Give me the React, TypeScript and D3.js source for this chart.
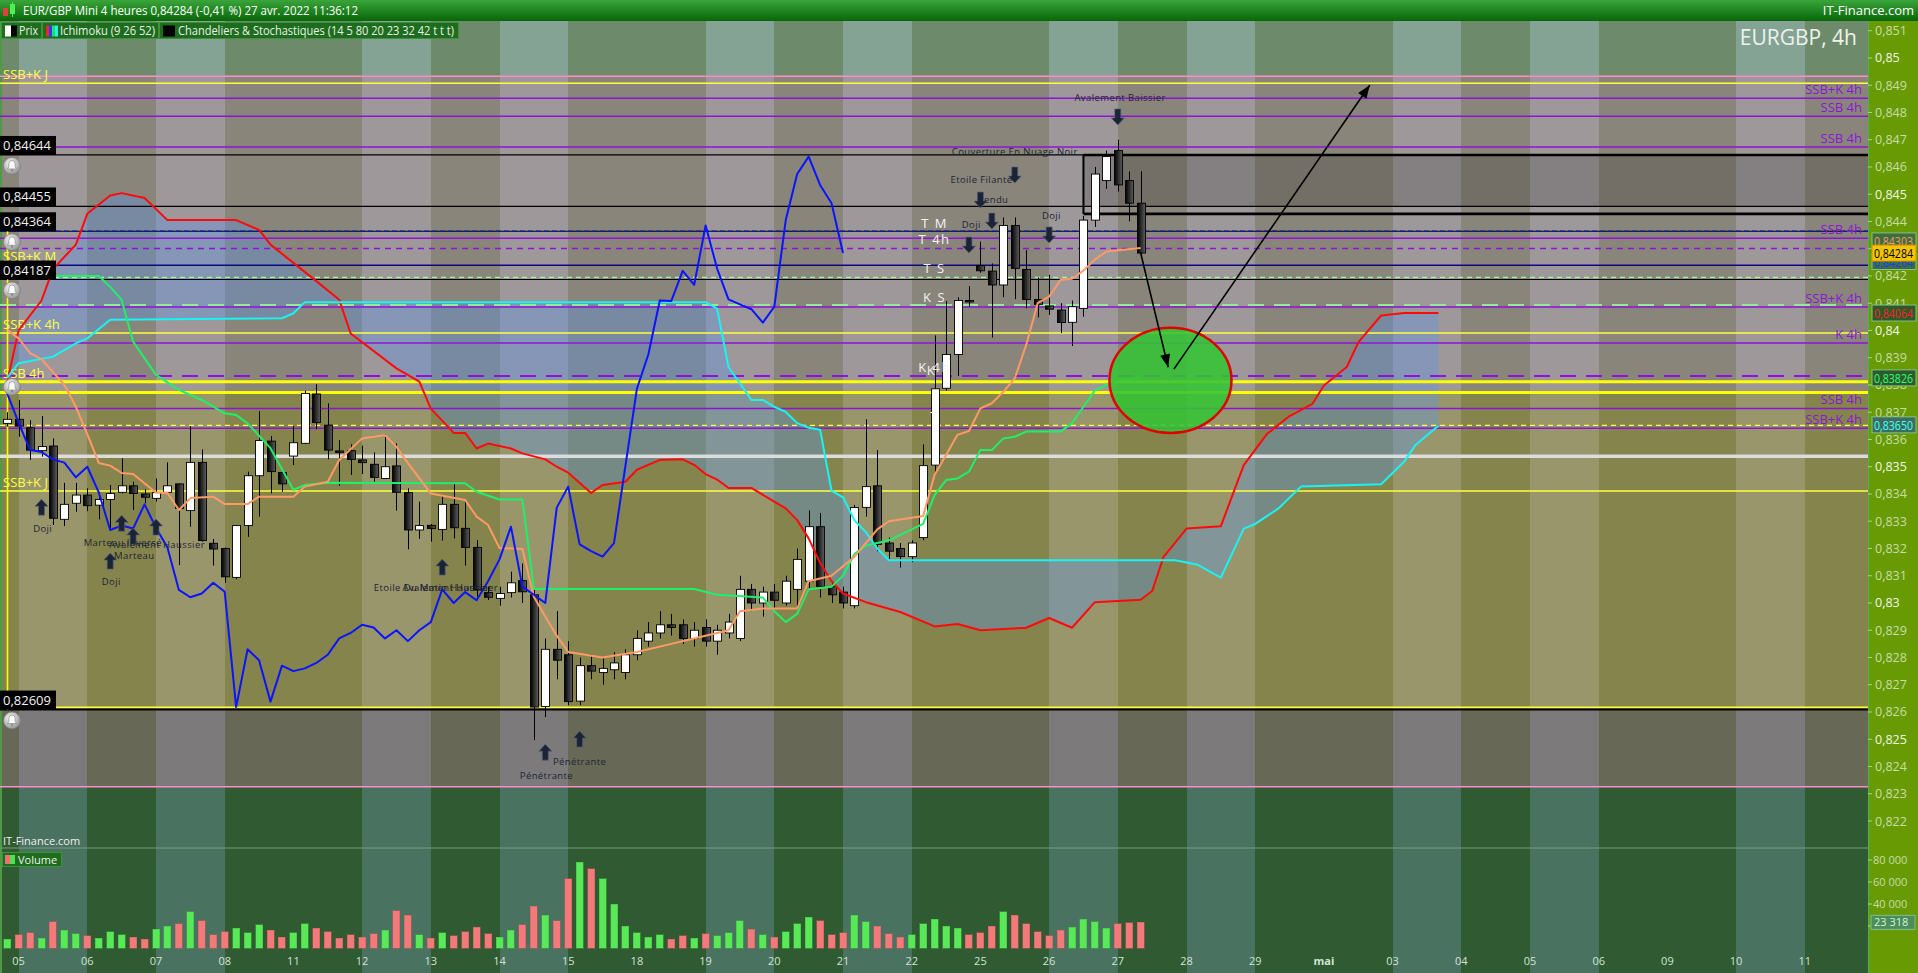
import React, { useEffect, useRef } from "react";
import * as d3 from "d3";

const W = 1918;
const H = 973;

// 4h candles, 04 avr. 20:00 -> 27 avr. 08:00
const opens = [
  0.83659, 0.83674, 0.83643, 0.83559, 0.83576, 0.83307, 0.83366, 0.83396, 0.83359, 0.8338,
  0.83406, 0.8343, 0.834, 0.83384, 0.83406, 0.83437, 0.83339, 0.83516, 0.83219, 0.832,
  0.83094, 0.83284, 0.83467, 0.83594, 0.83479, 0.83539, 0.83586, 0.83767, 0.83653, 0.83558,
  0.83559, 0.83525, 0.83509, 0.83457, 0.83503, 0.83405, 0.83268, 0.83285, 0.8327, 0.83362,
  0.83274, 0.83204, 0.83038, 0.83017, 0.83038, 0.83082, 0.8303, 0.8262, 0.8283, 0.8281,
  0.8264, 0.8277, 0.82745, 0.82755, 0.82745, 0.8281, 0.8286, 0.8289, 0.8292, 0.8292,
  0.8287, 0.8291, 0.8286, 0.8289, 0.8287, 0.8305, 0.83, 0.8304, 0.83, 0.8305,
  0.8308, 0.8328, 0.8306, 0.8304, 0.8299, 0.83351, 0.8343, 0.8322, 0.832, 0.8317,
  0.8324, 0.83506, 0.83788, 0.83912, 0.8411, 0.84238, 0.84218, 0.84167, 0.84385, 0.84224,
  0.84114, 0.8409, 0.84075, 0.8403, 0.84081, 0.84405, 0.8455, 0.8466, 0.8455, 0.84467,
];
const highs = [
  0.837, 0.83745, 0.83671, 0.83686, 0.83604, 0.83441, 0.83441, 0.83421, 0.83408, 0.83433,
  0.83531, 0.83445, 0.83417, 0.83457, 0.83516, 0.83439, 0.83649, 0.83564, 0.83235, 0.83204,
  0.83286, 0.83482, 0.83704, 0.83613, 0.83479, 0.83649, 0.83779, 0.83803, 0.83733, 0.83598,
  0.83583, 0.83577, 0.83553, 0.8362, 0.83586, 0.83421, 0.83372, 0.8329, 0.83396, 0.83437,
  0.83372, 0.83231, 0.8306, 0.8306, 0.83115, 0.83145, 0.8305, 0.8287, 0.8297, 0.8286,
  0.828, 0.8281, 0.828, 0.8282, 0.8283, 0.829, 0.8293, 0.8297, 0.8296, 0.8294,
  0.8293, 0.8294, 0.8292, 0.8296, 0.831, 0.8307, 0.8306, 0.8307, 0.831, 0.832,
  0.8334, 0.8333, 0.8308, 0.8306, 0.8336, 0.83674, 0.83561, 0.8324, 0.8322, 0.8323,
  0.83582, 0.83982, 0.84108, 0.84122, 0.84163, 0.84326, 0.84246, 0.84415, 0.84415, 0.84295,
  0.84195, 0.84204, 0.841, 0.8411, 0.8442, 0.846, 0.8466, 0.847, 0.84584, 0.84584,
];
const lows = [
  0.83647, 0.8361, 0.83525, 0.83537, 0.83286, 0.83282, 0.83335, 0.83337, 0.83307, 0.83268,
  0.83402, 0.83341, 0.83366, 0.83372, 0.83402, 0.83139, 0.8328, 0.83225, 0.83137, 0.83074,
  0.83087, 0.83243, 0.83317, 0.83402, 0.83408, 0.83506, 0.83583, 0.83637, 0.83527, 0.8343,
  0.8347, 0.83473, 0.83445, 0.83455, 0.83339, 0.83197, 0.83235, 0.83225, 0.83229, 0.83237,
  0.83137, 0.83023, 0.83011, 0.8299, 0.8302, 0.83, 0.82497, 0.82581, 0.8272, 0.82625,
  0.82625, 0.8272, 0.827, 0.8272, 0.8272, 0.8279, 0.8284, 0.8287, 0.8288, 0.8285,
  0.8284, 0.8284, 0.8281, 0.8287, 0.8286, 0.8297, 0.8295, 0.8298, 0.8299, 0.8298,
  0.8305, 0.8302, 0.83, 0.8298, 0.8298, 0.83317, 0.8319, 0.8316, 0.8313, 0.8315,
  0.8323, 0.83479, 0.83779, 0.83833, 0.84087, 0.84212, 0.83974, 0.84122, 0.84115, 0.84081,
  0.84048, 0.84057, 0.8399, 0.83943, 0.8405, 0.8438, 0.8452, 0.8451, 0.844, 0.8428,
];
const closes = [
  0.83674, 0.83649, 0.83561, 0.83574, 0.83311, 0.83362, 0.83396, 0.83357, 0.8338, 0.83402,
  0.8343, 0.83402, 0.83388, 0.83405, 0.8343, 0.83347, 0.83516, 0.83229, 0.83198, 0.83096,
  0.83284, 0.83467, 0.83596, 0.83482, 0.83437, 0.83588, 0.83769, 0.83662, 0.83561, 0.83554,
  0.83527, 0.83515, 0.83461, 0.835, 0.83406, 0.83268, 0.83284, 0.83273, 0.83362, 0.83276,
  0.83204, 0.83048, 0.83021, 0.83035, 0.83074, 0.83041, 0.82618, 0.8283, 0.8279, 0.82638,
  0.8277, 0.8275, 0.8276, 0.8278, 0.8281, 0.8287, 0.8289, 0.8292, 0.8291, 0.8287,
  0.829, 0.8286, 0.829, 0.8293, 0.8305, 0.83, 0.8304, 0.8301, 0.8308, 0.8316,
  0.8328, 0.8306, 0.8303, 0.83, 0.8335, 0.83427, 0.83215, 0.8319, 0.8317, 0.8322,
  0.83504, 0.83786, 0.83912, 0.8411, 0.84108, 0.84219, 0.84167, 0.84385, 0.84228, 0.84114,
  0.84096, 0.84078, 0.84029, 0.84087, 0.84405, 0.84574, 0.84638, 0.84534, 0.84467, 0.84284,
];
const volumes = [
  8000, 12000, 14000, 9000, 24000, 16000, 13000, 11000, 9000, 15000,
  12000, 10000, 8000, 17000, 20000, 22000, 33000, 25000, 12000, 15000,
  18000, 14000, 21000, 16000, 10000, 14000, 22000, 18000, 15000, 9000,
  12000, 10000, 13000, 16000, 34000, 30000, 12000, 9000, 14000, 11000,
  15000, 19000, 13000, 10000, 16000, 21000, 38000, 30000, 25000, 63000,
  78000, 72000, 63000, 40000, 20000, 14000, 10000, 12000, 8000, 11000,
  9000, 13000, 11000, 14000, 25000, 17000, 12000, 10000, 15000, 22000,
  28000, 25000, 12000, 14000, 30000, 24000, 20000, 13000, 10000, 12000,
  22000, 26000, 20000, 18000, 12000, 14000, 20000, 33000, 30000, 22000,
  15000, 11000, 16000, 19000, 26000, 24000, 18000, 22000, 23000, 23318,
];

// one label per trading day, 6 candles each
const dayLabels = ["05", "06", "07", "08", "11", "12", "13", "14", "15", "18", "19", "20", "21", "22",
  "25", "26", "27", "28", "29", "mai", "03", "04", "05", "06", "09", "10", "11"];
const shadedDays = [1, 0, 1, 0, 0, 1, 0, 1, 0, 0, 1, 0, 1, 0, 0, 1, 0, 1, 0, 0, 1, 0, 1, 0, 0, 1, 0];

// Ichimoku (9 26 52), [candle index, price]
const tenkan = [
  [0, 0.84002], [1, 0.83971], [2, 0.83917], [3, 0.83895], [5, 0.838], [6, 0.8372], [7, 0.8362],
  [8, 0.83514], [9, 0.83504], [10, 0.83477], [11, 0.83473], [13, 0.83405], [14, 0.83404],
  [15, 0.83341], [16, 0.83385], [18, 0.8339], [19, 0.83363], [21, 0.83363], [22, 0.8339],
  [25, 0.8339], [26, 0.83427], [28, 0.83445], [29, 0.83525], [31, 0.83604], [33, 0.83616],
  [34, 0.83573], [35, 0.83513], [37, 0.83402], [40, 0.83378], [41, 0.83317], [42, 0.83286],
  [43, 0.83202], [45, 0.83198], [46, 0.83023], [47, 0.8295], [48, 0.8288], [49, 0.8282],
  [52, 0.828], [55, 0.8282], [58, 0.8285], [61, 0.8288], [63, 0.829], [64, 0.8297], [66, 0.8298],
  [69, 0.8298], [70, 0.8308], [72, 0.831], [74, 0.8317], [76, 0.8327], [77, 0.833], [80, 0.83319],
  [81, 0.83471], [82, 0.83543], [83, 0.83617], [84, 0.83631], [85, 0.83714], [86, 0.83733],
  [87, 0.83775], [88, 0.83824], [89, 0.83947], [90, 0.841], [91, 0.84124], [92, 0.84185],
  [93, 0.8419], [94, 0.8422], [95, 0.8426], [96, 0.8429], [99, 0.84303],
];
const kijun = [
  [0, 0.842], [8, 0.842], [9, 0.8416], [10, 0.84112], [11, 0.83959], [13, 0.83837], [15, 0.83782],
  [17, 0.83745], [19, 0.83696], [20, 0.8369], [21, 0.83659], [23, 0.83568], [25, 0.83415],
  [26, 0.83433], [28, 0.83441], [40, 0.83439], [41, 0.83408], [43, 0.8338], [45, 0.8338],
  [46, 0.83051], [60, 0.83051], [62, 0.8303], [66, 0.8302], [67, 0.8297], [68, 0.8293],
  [69, 0.8296], [70, 0.8305], [72, 0.8306], [73, 0.831], [74, 0.8318], [75, 0.8321], [77, 0.8323],
  [80, 0.8329], [81, 0.83396], [82, 0.83451], [83, 0.83457], [84, 0.83482], [85, 0.83561],
  [86, 0.83561], [87, 0.83604], [88, 0.8361], [89, 0.83629], [92, 0.83629], [93, 0.8366],
  [94, 0.8372], [95, 0.8378], [97, 0.8382], [99, 0.83826],
];
const senkouA = [
  [0, 0.8381], [1, 0.84], [3, 0.8411], [4, 0.84225], [6, 0.84315], [7, 0.84428], [9, 0.84495],
  [10, 0.84504], [12, 0.84486], [14, 0.84405], [20, 0.84405], [22, 0.84369], [23, 0.84315],
  [25, 0.84248], [27, 0.84181], [29, 0.84113], [30, 0.83989], [34, 0.83861], [36, 0.83812],
  [37, 0.83713], [39, 0.83624], [40, 0.83624], [41, 0.83567], [42, 0.83585], [44, 0.83567],
  [45, 0.83549], [47, 0.83527], [48, 0.835], [49, 0.83478], [51, 0.83404], [52, 0.83433],
  [54, 0.83445], [55, 0.83489], [57, 0.83525], [59, 0.83527], [60, 0.83507], [61, 0.83473],
  [62, 0.83453], [63, 0.83422], [65, 0.83422], [67, 0.83372], [68, 0.83347], [69, 0.83304],
  [70, 0.83237], [71, 0.83147], [72, 0.8308], [73, 0.83035], [75, 0.83003], [78, 0.82967],
  [81, 0.82914], [83, 0.82923], [85, 0.829], [89, 0.82909], [91, 0.82945], [93, 0.82909],
  [95, 0.83003], [99, 0.83012], [100, 0.83044], [101, 0.83169], [103, 0.83273], [106, 0.83282],
  [107, 0.83394], [108, 0.83506], [110, 0.83619], [112, 0.83686], [114, 0.83731], [115, 0.83798],
  [117, 0.83866], [118, 0.83956], [120, 0.84055], [122, 0.84064], [125, 0.84064],
];
const senkouB = [
  [0, 0.83826], [1, 0.8388], [4, 0.83904], [6, 0.83953], [7, 0.83971], [9, 0.84039], [24, 0.84045],
  [25, 0.84063], [26, 0.84104], [61, 0.84104], [62, 0.8408], [63, 0.83866], [65, 0.83745],
  [66, 0.83745], [67, 0.8372], [68, 0.83701], [69, 0.8366], [70, 0.83643], [71, 0.83636],
  [72, 0.83411], [73, 0.83388], [74, 0.83303], [75, 0.8326], [76, 0.832], [77, 0.83157],
  [102, 0.83157], [104, 0.8314], [106, 0.83093], [108, 0.83273], [109, 0.8329], [111, 0.83346],
  [113, 0.83427], [120, 0.83436], [122, 0.83518], [123, 0.8358], [125, 0.8365],
];
const chikouShift = 26;

const priceTicks = [0.851, 0.85, 0.849, 0.848, 0.847, 0.846, 0.845, 0.844, 0.843, 0.842, 0.841,
  0.84, 0.839, 0.838, 0.837, 0.836, 0.835, 0.834, 0.833, 0.832, 0.831, 0.83, 0.829, 0.828, 0.827,
  0.826, 0.825, 0.824, 0.823, 0.822];
const volumeTicks = [80000, 60000, 40000, 20000];

// horizontal background zones: top of each zone (first zone starts at the panel top)
const zoneEdges = [0.84933, 0.83772, 0.82609, 0.82326];

// drawn support / resistance levels
const levelPrices = [0.84933, 0.84907, 0.84852, 0.84786, 0.84673, 0.84644, 0.84455, 0.84364, 0.84364,
  0.84338, 0.84301, 0.84239, 0.84195, 0.84187, 0.84093, 0.84086, 0.83991, 0.83954, 0.83833, 0.83812,
  0.83772, 0.83714, 0.83652, 0.83641, 0.83538, 0.83411, 0.82617, 0.82609, 0.82326];
const levelKinds = ["pink", "yellow", "purple", "purple", "purple", "black", "black", "black", "navyDash",
  "purple", "purpleDash", "navy", "greenDash", "black", "greenLong", "purple", "yellow", "purple",
  "purpleLong", "yellowThick", "yellowThick", "purple", "yellowDash", "purple", "white", "yellow",
  "yellow", "blackMid", "pink"];
const levelNames = ["", "", "SSB+K 4h", "SSB 4h", "SSB 4h", "", "", "", "", "SSB 4h", "", "", "", "", "",
  "SSB+K 4h", "", "K 4h", "", "", "", "SSB 4h", "", "SSB+K 4h", "", "", "", "", ""];

const tagPrices = [0.84644, 0.84455, 0.84364, 0.84187, 0.82609];
const bellPrices = [0.84644, 0.84364, 0.84187, 0.83833, 0.82609];
const leftNames = ["SSB+K J", "SSB+K M", "SSB+K 4h", "SSB 4h", "SSB+K J"];
const leftPrices = [0.84907, 0.84239, 0.83991, 0.83812, 0.83411];

// rectangle drawn on the last candles
const boxStartK = 94;
const boxPrices = [0.84644, 0.84455, 0.84428];

// candle pattern markers
const upArrowK = [3, 10, 11, 13, 9, 38, 47, 50];
const upArrowP = [0.83381, 0.83322, 0.83275, 0.83308, 0.83183, 0.83161, 0.82482, 0.8253];
const downArrowK = [88, 85, 86, 84, 91, 97];
const downArrowP = [0.84541, 0.84449, 0.84372, 0.84284, 0.84321, 0.84754];
const patternNames = ["Doji", "Marteau Inversé", "Avalement Haussier", "Marteau", "Doji",
  "Etoile Du Matin Haussier", "Avalement Haussier", "Pénétrante", "Pénétrante",
  "Couverture En Nuage Noir", "Etoile Filante", "Rendu", "Doji", "Doji", "Avalement Baissier"];
const patternK = [3.1, 10.1, 13.1, 11.1, 9.1, 37.2, 38.7, 47.1, 50, 88, 85.1, 86.1, 84.2, 91.2, 97.2];
const patternP = [0.83274, 0.83225, 0.83216, 0.83176, 0.83082, 0.8306, 0.8306, 0.8237, 0.82421,
  0.8466, 0.84557, 0.84484, 0.84392, 0.84425, 0.84857];

const markNames = ["T M", "T 4h", "T S", "K S", "K 4h", "K", "T"];
const markP = [0.84396, 0.84335, 0.84229, 0.84124, 0.83866, 0.83855, 0.83686];
const markK = 81;

// target zone and arrows
const targetK = 101.6;
const targetP = 0.83817;
const targetSpanK = 5.33;
const targetSpanP = 0.00193;
const arrowLines = [
  [[99, 0.84284], [101.4, 0.83865]],
  [[101.9, 0.83858], [119, 0.849]],
];

// last values on the price axis
const lastPrice = 0.84284;
const valueBoxes = [
  { name: "chikou", value: 0.84264 },
  { name: "tenkan", value: 0.84303 },
  { name: "senkouA", value: 0.84064 },
  { name: "kijun", value: 0.83826 },
  { name: "senkouB", value: 0.8365 },
];
const lastVolume = 23318;

const FONT = "'Open Sans', 'DejaVu Sans', sans-serif";

const App: React.FC = () => {
  const svgRef = useRef<SVGSVGElement | null>(null);

  useEffect(() => {
    const svg = d3.select(svgRef.current);
    svg.selectAll("*").remove();

    const plotRight = 1868;
    const plotTop = 21;
    const mainBottom = 848;

    const x = d3.scaleLinear().domain([0, 1]).range([7.15, 18.6]);
    const y = d3.scaleLinear().domain([0.851, 0.822]).range([30.7, 821]);
    const yv = d3.scaleLinear().domain([0, 80000]).range([948, 860]);

    const defs = svg.append("defs");
    const darkBody = defs.append("linearGradient").attr("id", "darkBody")
      .attr("x1", "0%").attr("x2", "100%").attr("y1", "0%").attr("y2", "0%");
    darkBody.append("stop").attr("offset", "0%").attr("stop-color", "#000");
    darkBody.append("stop").attr("offset", "100%").attr("stop-color", "#5e5e5e");

    const titleGrad = defs.append("linearGradient").attr("id", "titleGrad")
      .attr("x1", "0%").attr("x2", "0%").attr("y1", "0%").attr("y2", "100%");
    titleGrad.append("stop").attr("offset", "0%").attr("stop-color", "#3aa53a");
    titleGrad.append("stop").attr("offset", "100%").attr("stop-color", "#086608");

    const bellGrad = defs.append("radialGradient").attr("id", "bellGrad")
      .attr("cx", "40%").attr("cy", "35%").attr("r", "70%");
    bellGrad.append("stop").attr("offset", "0%").attr("stop-color", "#ffffff");
    bellGrad.append("stop").attr("offset", "100%").attr("stop-color", "#8c8c8c");

    // ---- background zones and day stripes
    const zoneDark = ["#6d8b6b", "#8a857b", "#86844d", "#676956", "#2f5a32"];
    const zoneLight = ["#84a394", "#9e989a", "#9a966c", "#7d7a7b", "#4a7260"];
    const zoneTops = [plotTop, ...zoneEdges.map((p) => y(p))];
    const zoneBottoms = [...zoneEdges.map((p) => y(p)), H];
    const bg = svg.append("g").attr("shape-rendering", "crispEdges");
    zoneTops.forEach((top, i) => {
      const h = zoneBottoms[i] - top;
      bg.append("rect").attr("x", 0).attr("y", top).attr("width", plotRight).attr("height", h)
        .attr("fill", zoneDark[i]);
      dayLabels.forEach((_, d) => {
        if (!shadedDays[d]) return;
        const x0 = x(1 + 6 * d);
        const x1 = Math.min(x(7 + 6 * d), plotRight);
        bg.append("rect").attr("x", x0).attr("y", top).attr("width", x1 - x0).attr("height", h)
          .attr("fill", zoneLight[i]);
      });
    });
    svg.append("rect").attr("x", 0).attr("y", plotTop).attr("width", 2).attr("height", H - plotTop)
      .attr("fill", "#4f9a47");

    // ---- Ichimoku cloud
    const pts = (arr: number[][]) => arr.map(([k, p]) => [x(k), y(p)] as [number, number]);
    const cloud = pts(senkouA).concat(pts(senkouB).reverse());
    svg.append("path").attr("d", d3.line()(cloud) + "Z").attr("fill", "rgba(88,148,232,0.36)");

    // ---- dark rectangle
    const bx = x(boxStartK);
    svg.append("rect").attr("x", bx).attr("y", y(boxPrices[0])).attr("width", plotRight - bx)
      .attr("height", y(boxPrices[1]) - y(boxPrices[0])).attr("fill", "rgba(0,0,0,0.16)");

    // ---- levels
    const levelStyle: Record<string, { c: string; w: number; dash?: string }> = {
      pink: { c: "#ff8ccc", w: 1.5 },
      yellow: { c: "#ffff3c", w: 1.5 },
      yellowThick: { c: "#ffff00", w: 3 },
      yellowDash: { c: "#ffff50", w: 1.3, dash: "5 4" },
      purple: { c: "#8c14d4", w: 1.5 },
      purpleDash: { c: "#8c14d4", w: 1.5, dash: "6 5" },
      purpleLong: { c: "#8c14d4", w: 2, dash: "16 10" },
      black: { c: "#000", w: 1.2 },
      blackMid: { c: "#000", w: 2 },
      navy: { c: "#0a0a80", w: 1.5 },
      navyDash: { c: "#0a1a9a", w: 1.5, dash: "5 3" },
      greenDash: { c: "#a0ff90", w: 1.3, dash: "5 4" },
      greenLong: { c: "#90ee90", w: 2, dash: "16 10" },
      white: { c: "#dcdcdc", w: 3.5 },
    };
    const lv = svg.append("g");
    levelPrices.forEach((p, i) => {
      const s = levelStyle[levelKinds[i]];
      lv.append("line").attr("x1", 0).attr("x2", plotRight).attr("y1", y(p)).attr("y2", y(p))
        .attr("stroke", s.c).attr("stroke-width", s.w).attr("stroke-dasharray", s.dash || null);
    });
    // box borders
    lv.append("line").attr("x1", bx).attr("x2", plotRight).attr("y1", y(boxPrices[0])).attr("y2", y(boxPrices[0]))
      .attr("stroke", "#000").attr("stroke-width", 2.6);
    lv.append("line").attr("x1", bx).attr("x2", plotRight).attr("y1", y(boxPrices[2])).attr("y2", y(boxPrices[2]))
      .attr("stroke", "#000").attr("stroke-width", 2.6);
    lv.append("line").attr("x1", bx).attr("x2", bx).attr("y1", y(boxPrices[0])).attr("y2", y(boxPrices[2]))
      .attr("stroke", "#000").attr("stroke-width", 2);
    // left yellow marker
    lv.append("line").attr("x1", 7.5).attr("x2", 7.5).attr("y1", y(0.84364)).attr("y2", y(0.82609))
      .attr("stroke", "#ffff00").attr("stroke-width", 1.6);

    // purple labels on the right
    levelNames.forEach((name, i) => {
      if (!name) return;
      lv.append("text").attr("x", plotRight - 6).attr("y", y(levelPrices[i]) - 4)
        .attr("text-anchor", "end").attr("font-family", FONT).attr("font-size", 13)
        .attr("fill", "#8a16d6").text(name);
    });
    // yellow labels on the left
    leftNames.forEach((name, i) => {
      lv.append("text").attr("x", 3).attr("y", y(leftPrices[i]) - 4)
        .attr("font-family", FONT).attr("font-size", 13).attr("fill", "#ffff44").text(name);
    });

    // ---- candles
    const cg = svg.append("g");
    opens.forEach((o, k) => {
      const c = closes[k];
      const cx = Math.round(x(k)) + 0.5;
      cg.append("line").attr("x1", cx).attr("x2", cx).attr("y1", y(highs[k])).attr("y2", y(lows[k]))
        .attr("stroke", "#000").attr("stroke-width", 1);
      const top = y(Math.max(o, c));
      const bot = y(Math.min(o, c));
      cg.append("rect").attr("x", cx - 4).attr("y", top).attr("width", 8)
        .attr("height", Math.max(bot - top, 1.5))
        .attr("fill", c >= o ? "#ffffff" : "url(#darkBody)")
        .attr("stroke", "#000").attr("stroke-width", 0.9);
    });

    // ---- Ichimoku lines
    const line = d3.line<number[]>().x((d) => x(d[0])).y((d) => y(d[1]));
    const ig = svg.append("g").attr("fill", "none").attr("stroke-width", 2).attr("stroke-linejoin", "round");
    ig.append("path").attr("d", line(senkouA)).attr("stroke", "#ff0a0a");
    ig.append("path").attr("d", line(senkouB)).attr("stroke", "#18f4f4");
    ig.append("path").attr("d", line(kijun)).attr("stroke", "#1ef06a");
    ig.append("path").attr("d", line(tenkan)).attr("stroke", "#ff9a66");
    const chikou = closes.slice(chikouShift).map((c, k) => [k, c]);
    ig.append("path").attr("d", line(chikou)).attr("stroke", "#0a14ff");

    // ---- pattern markers
    const ag = svg.append("g");
    const arrowShape = (cx: number, ty: number, dir: number) => {
      const pts2 = [[0, 0], [6.5, 7], [3, 7], [3, 16], [-3, 16], [-3, 7], [-6.5, 7]];
      return "M" + pts2.map(([dx, dy]) => `${cx + dx},${ty + dir * dy}`).join("L") + "Z";
    };
    upArrowK.forEach((k, i) => {
      ag.append("path").attr("d", arrowShape(x(k), y(upArrowP[i]), 1))
        .attr("fill", "#1b2434").attr("stroke", "#56607a").attr("stroke-width", 0.7);
    });
    downArrowK.forEach((k, i) => {
      ag.append("path").attr("d", arrowShape(x(k), y(downArrowP[i]), -1))
        .attr("fill", "#1b2434").attr("stroke", "#56607a").attr("stroke-width", 0.7);
    });
    patternNames.forEach((name, i) => {
      ag.append("text").attr("x", x(patternK[i])).attr("y", y(patternP[i]) + 4)
        .attr("text-anchor", "middle").attr("font-family", FONT).attr("font-size", 9.5)
        .attr("letter-spacing", 0.4).attr("fill", "#1c2434").text(name);
    });
    markNames.forEach((name, i) => {
      ag.append("text").attr("x", x(markK) - (name === "K" ? 3 : 0)).attr("y", y(markP[i]) + 5)
        .attr("text-anchor", "middle").attr("font-family", FONT).attr("font-size", 13)
        .attr("letter-spacing", 1.5).attr("fill", "#f4f4f4").text(name);
    });

    // ---- left price tags and bells
    tagPrices.forEach((p) => {
      const ly = y(p);
      svg.append("rect").attr("x", 0).attr("y", ly - 19).attr("width", 56).attr("height", 19).attr("fill", "#000");
      svg.append("text").attr("x", 3).attr("y", ly - 5).attr("font-family", FONT).attr("font-size", 13)
        .attr("fill", "#f2f2f2").text(String(p.toFixed(5)).replace(".", ","));
    });
    bellPrices.forEach((p) => {
      const g = svg.append("g").attr("transform", `translate(12,${y(p) + 11})`);
      g.append("circle").attr("r", 8.5).attr("fill", "url(#bellGrad)").attr("stroke", "#777").attr("stroke-width", 0.6);
      g.append("path").attr("d", "M-4.5,3 L4.5,3 L3.2,1 L3.2,-2 Q3.2,-5.5 0,-5.5 Q-3.2,-5.5 -3.2,-2 L-3.2,1 Z")
        .attr("fill", "#fafafa").attr("stroke", "#8a8a8a").attr("stroke-width", 0.7);
      g.append("circle").attr("cy", 4.3).attr("r", 1.2).attr("fill", "#8a8a8a");
    });

    // ---- target ellipse and arrows
    svg.append("ellipse").attr("cx", x(targetK)).attr("cy", y(targetP))
      .attr("rx", x(targetK + targetSpanK) - x(targetK))
      .attr("ry", y(targetP - targetSpanP) - y(targetP))
      .attr("fill", "rgba(52,196,52,0.88)").attr("stroke", "#e00000").attr("stroke-width", 2.5);
    arrowLines.forEach(([[k0, p0], [k1, p1]]) => {
      const xa = x(k0), ya = y(p0), xb = x(k1), yb = y(p1);
      const ang = Math.atan2(yb - ya, xb - xa);
      svg.append("line").attr("x1", xa).attr("y1", ya).attr("x2", xb).attr("y2", yb)
        .attr("stroke", "#000").attr("stroke-width", 1.6);
      const hl = 13, hw = 5;
      const p1x = xb - hl * Math.cos(ang) + hw * Math.sin(ang);
      const p1y = yb - hl * Math.sin(ang) - hw * Math.cos(ang);
      const p2x = xb - hl * Math.cos(ang) - hw * Math.sin(ang);
      const p2y = yb - hl * Math.sin(ang) + hw * Math.cos(ang);
      svg.append("path").attr("d", `M${xb},${yb}L${p1x},${p1y}L${p2x},${p2y}Z`).attr("fill", "#000");
    });

    svg.append("text").attr("x", 1857).attr("y", 45).attr("text-anchor", "end")
      .attr("font-family", FONT).attr("font-size", 21).attr("fill", "#eef2ee").text("EURGBP, 4h");

    // ---- title bar and legend
    svg.append("rect").attr("x", 0).attr("y", 0).attr("width", W).attr("height", plotTop).attr("fill", "url(#titleGrad)");
    svg.append("rect").attr("x", 3).attr("y", 8).attr("width", 5).attr("height", 8).attr("fill", "#e04040");
    svg.append("rect").attr("x", 10).attr("y", 4).attr("width", 5).attr("height", 10).attr("fill", "#50f050");
    svg.append("line").attr("x1", 12.5).attr("x2", 12.5).attr("y1", 2).attr("y2", 17).attr("stroke", "#50f050");
    svg.append("text").attr("x", 23).attr("y", 15).attr("font-family", FONT).attr("font-size", 13)
      .attr("fill", "#ffffff").attr("textLength", 335).attr("lengthAdjust", "spacingAndGlyphs")
      .text("EUR/GBP Mini 4 heures 0,84284 (-0,41 %) 27 avr. 2022 11:36:12");
    svg.append("text").attr("x", 1914).attr("y", 15).attr("text-anchor", "end").attr("font-family", FONT)
      .attr("font-size", 13).attr("fill", "#ffffff").text("IT-Finance.com");

    const legend = [
      { x0: 1, x1: 41, tx: 19, tl: 19, text: "Prix" },
      { x0: 42, x1: 158, tx: 60, tl: 95, text: "Ichimoku (9 26 52)" },
      { x0: 159, x1: 458, tx: 178, tl: 276, text: "Chandeliers & Stochastiques (14 5 80 20 23 32 42 t t t)" },
    ];
    legend.forEach((l, i) => {
      svg.append("rect").attr("x", l.x0 + 0.5).attr("y", 22.5).attr("width", l.x1 - l.x0).attr("height", 16)
        .attr("fill", "#1e6c1e").attr("stroke", "#3f913f");
      svg.append("text").attr("x", l.tx).attr("y", 35).attr("font-family", FONT).attr("font-size", 12.5)
        .attr("fill", "#e8f2e8").attr("textLength", l.tl).attr("lengthAdjust", "spacingAndGlyphs").text(l.text);
      const ix = l.x0 + 4;
      if (i === 0) {
        svg.append("rect").attr("x", ix).attr("y", 25.5).attr("width", 6).attr("height", 11).attr("fill", "#fff");
        svg.append("rect").attr("x", ix + 6).attr("y", 25.5).attr("width", 6).attr("height", 11).attr("fill", "#000");
      } else if (i === 1) {
        ["#ff2020", "#2040ff", "#20e060", "#20f0f0"].forEach((col, j) => {
          svg.append("rect").attr("x", ix + j * 3).attr("y", 25.5).attr("width", 3).attr("height", 11).attr("fill", col);
        });
      } else {
        svg.append("rect").attr("x", ix).attr("y", 25.5).attr("width", 12).attr("height", 11).attr("fill", "#000");
      }
    });

    // ---- volume panel
    svg.append("line").attr("x1", 0).attr("x2", plotRight).attr("y1", mainBottom).attr("y2", mainBottom)
      .attr("stroke", "#7b9b7b").attr("stroke-width", 1);
    svg.append("text").attr("x", 3).attr("y", 845).attr("font-family", FONT).attr("font-size", 11)
      .attr("fill", "#f0f0f0").text("IT-Finance.com");
    svg.append("rect").attr("x", 2.5).attr("y", 852.5).attr("width", 59).attr("height", 14)
      .attr("fill", "#1e6c1e").attr("stroke", "#3f913f");
    svg.append("rect").attr("x", 5).attr("y", 855).attr("width", 5).attr("height", 9).attr("fill", "#f07070");
    svg.append("rect").attr("x", 10).attr("y", 855).attr("width", 5).attr("height", 9).attr("fill", "#50e050");
    svg.append("text").attr("x", 18).attr("y", 863.5).attr("font-family", FONT).attr("font-size", 11)
      .attr("fill", "#f0f0f0").text("Volume");
    const vg = svg.append("g").attr("shape-rendering", "crispEdges");
    volumes.forEach((v, k) => {
      vg.append("rect").attr("x", x(k) - 3.5).attr("y", yv(v)).attr("width", 7).attr("height", yv(0) - yv(v))
        .attr("fill", closes[k] >= opens[k] ? "#58e858" : "#f27a7a")
        .attr("stroke", closes[k] >= opens[k] ? "#3cb83c" : "#c85858").attr("stroke-width", 0.5);
    });

    // ---- x axis labels
    dayLabels.forEach((lab, d) => {
      svg.append("text").attr("x", x(1 + 6 * d)).attr("y", 965).attr("text-anchor", "middle")
        .attr("font-family", FONT).attr("font-size", 11).attr("font-weight", lab === "mai" ? 700 : 400)
        .attr("fill", "#d4e4d4").text(lab);
    });

    // ---- right axis
    svg.append("rect").attr("x", plotRight).attr("y", plotTop).attr("width", W - plotRight).attr("height", H - plotTop)
      .attr("fill", "#689a04");
    svg.append("line").attr("x1", plotRight + 0.5).attr("x2", plotRight + 0.5).attr("y1", plotTop).attr("y2", H)
      .attr("stroke", "#4fb04f").attr("stroke-width", 1);
    const fmt = (v: number) => String(+v.toFixed(3)).replace(".", ",");
    priceTicks.forEach((t) => {
      const ty = y(t);
      const major = Math.round(t * 1000) % 5 === 0;
      svg.append("line").attr("x1", plotRight).attr("x2", plotRight + 4).attr("y1", ty).attr("y2", ty)
        .attr("stroke", "#a8d870");
      svg.append("text").attr("x", plotRight + 7).attr("y", ty + 4.5).attr("font-family", FONT)
        .attr("font-size", 12.5).attr("fill", major ? "#f2f6e4" : "#c9dca6").text(fmt(t));
    });
    volumeTicks.forEach((t) => {
      const ty = yv(t);
      svg.append("line").attr("x1", plotRight).attr("x2", plotRight + 4).attr("y1", ty).attr("y2", ty)
        .attr("stroke", "#a8d870");
      svg.append("text").attr("x", plotRight + 5).attr("y", ty + 4).attr("font-family", FONT)
        .attr("font-size", 11).attr("fill", "#c9dca6").text(d3.format(",")(t).replace(",", " "));
    });
    const vb = yv(lastVolume);
    svg.append("rect").attr("x", plotRight + 3).attr("y", vb - 7).attr("width", 44).attr("height", 14)
      .attr("fill", "#4b8d5c").attr("stroke", "#7cc08c");
    svg.append("text").attr("x", plotRight + 6).attr("y", vb + 4).attr("font-family", FONT)
      .attr("font-size", 11).attr("fill", "#d8f2d8").text(d3.format(",")(lastVolume).replace(",", " "));

    const boxStyle: Record<string, { text: string; fill: string; dy: number }> = {
      chikou: { text: "#1a3cff", fill: "#3d6e3d", dy: 3 },
      tenkan: { text: "#ff9466", fill: "#3d6e3d", dy: -7 },
      senkouA: { text: "#ff2020", fill: "#2d5a2d", dy: 0 },
      kijun: { text: "#30ff70", fill: "#2d5a2d", dy: 0 },
      senkouB: { text: "#40ffff", fill: "#3d6e5d", dy: -1 },
    };
    const drawBox = (cy: number, fill: string, stroke: string, color: string, label: string) => {
      svg.append("rect").attr("x", plotRight + 4).attr("y", cy - 8).attr("width", 44).attr("height", 16)
        .attr("fill", fill).attr("stroke", stroke);
      svg.append("text").attr("x", plotRight + 6).attr("y", cy + 5).attr("font-family", FONT)
        .attr("font-size", 12).attr("fill", color).attr("textLength", 39).attr("lengthAdjust", "spacingAndGlyphs")
        .text(label);
    };
    valueBoxes.forEach((b) => {
      const s = boxStyle[b.name];
      drawBox(y(b.value) + s.dy, s.fill, "#86c086", s.text, b.value.toFixed(5).replace(".", ","));
    });
    drawBox(y(lastPrice), "#f5c400", "#d09000", "#000", lastPrice.toFixed(5).replace(".", ","));
  }, []);

  return (
    <svg
      ref={svgRef}
      width={W}
      height={H}
      style={{ position: "fixed", left: 0, top: 0, background: "#2f5a32" }}
    ></svg>
  );
};

export default App;
